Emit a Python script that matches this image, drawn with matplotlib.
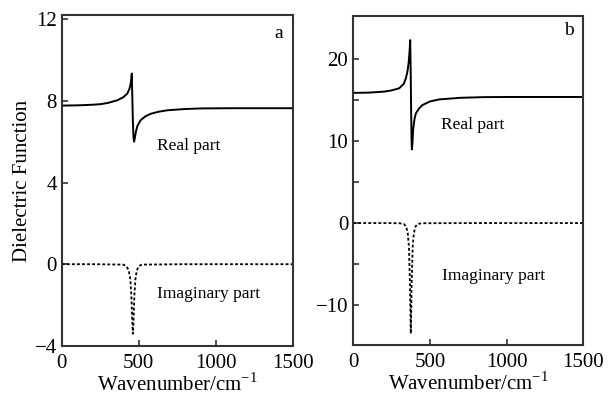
import matplotlib
matplotlib.use("Agg")
import matplotlib.pyplot as plt

plt.rcParams['font.family'] = ['Liberation Serif', 'DejaVu Serif']

# panel a
wn_real_a = [0, 100, 200, 252, 300, 361, 400, 426, 440, 448, 452, 455, 458, 462,
             466, 470, 475, 482, 492, 513, 545, 579, 630, 688, 800, 904, 1100, 1300, 1500]
eps_real_a = [7.77, 7.78, 7.81, 7.84, 7.9, 8.03, 8.18, 8.36, 8.6, 8.85, 9.1, 9.34,
              8.3, 7.0, 6.2, 6.0, 6.2, 6.5, 6.78, 7.06, 7.25, 7.37, 7.47, 7.54,
              7.6, 7.63, 7.64, 7.64, 7.64]
wn_imag_a = [0, 200, 400, 420, 435, 445, 452, 458, 462, 466, 472, 479, 488, 500,
             520, 800, 1200, 1500]
eps_imag_a = [0, 0, -0.02, -0.1, -0.3, -0.7, -1.5, -2.8, -3.41, -2.8, -1.5, -0.7,
              -0.3, -0.1, -0.02, 0, 0, 0]

# panel b
wn_real_b = [0, 100, 200, 250, 300, 330, 344, 355, 362, 368, 372, 375, 378, 381,
             383, 387, 391, 400, 409, 430, 451, 500, 560, 700, 850, 1000, 1500]
eps_real_b = [15.9, 15.93, 16.05, 16.2, 16.46, 17.0, 17.7, 18.6, 19.6, 21.0, 22.35,
              19.0, 14.0, 10.0, 9.0, 9.8, 11.4, 12.7, 13.4, 14.0, 14.4, 14.85, 15.1,
              15.3, 15.38, 15.4, 15.4]
wn_imag_b = [0, 200, 300, 330, 345, 356, 364, 370, 376, 382, 388, 396, 407, 422,
             450, 800, 1500]
eps_imag_b = [0, 0, -0.02, -0.1, -0.4, -1.2, -3.0, -7.0, -13.5, -7.0, -3.0, -1.2,
              -0.4, -0.1, -0.02, 0, 0]

fig = plt.figure(figsize=(6.12, 3.98), dpi=100)
ax1 = fig.add_axes([0.101, 0.131, 0.377, 0.831])
ax2 = fig.add_axes([0.577, 0.133, 0.376, 0.827])

dot = (0, (1.6, 1.2))
ax1.plot(wn_real_a, eps_real_a, color='black', lw=1.4)
ax1.plot(wn_imag_a, eps_imag_a, color='black', lw=1.3, linestyle=dot)
ax2.plot(wn_real_b, eps_real_b, color='black', lw=1.4)
ax2.plot(wn_imag_b, eps_imag_b, color='black', lw=1.3, linestyle=dot)

ax1.set_xlim(0, 1500)
ax1.set_ylim(-4, 12.2)
ax1.set_yticks([-4, 0, 4, 8, 12])
ax2.set_xlim(0, 1500)
ax2.set_ylim(-14.9, 25.3)
ax2.set_yticks([-10, 0, 10, 20])
ax2.set_yticks([-5, 5, 15], minor=True)

for ax in (ax1, ax2):
    ax.set_xticks([0, 500, 1000, 1500])
    ax.tick_params(direction='in', length=4, width=1.2, labelsize=15, color='#333333')
    ax.tick_params(which='minor', direction='in', length=4, width=1.2, color='#333333')
    ax.tick_params(axis='x', pad=6)
    for s in ax.spines.values():
        s.set_linewidth(1.5)
        s.set_color('#333333')
    ax.set_xlabel('Wavenumber/cm$^{\\mathregular{-1}}$', fontsize=15, labelpad=0)

ax1.set_ylabel('Dielectric Function', fontsize=15, labelpad=2)

ax1.text(1440, 11.3, 'a', fontsize=14, ha='right', va='center')
ax2.text(1440, 23.5, 'b', fontsize=14, ha='right', va='center')
ax1.text(620, 5.8, 'Real part', fontsize=12.5, va='center')
ax1.text(620, -1.45, 'Imaginary part', fontsize=12.5, va='center')
ax2.text(570, 12.0, 'Real part', fontsize=12.5, va='center')
ax2.text(580, -6.5, 'Imaginary part', fontsize=12.5, va='center')

fig.savefig('out.png', dpi=100)
